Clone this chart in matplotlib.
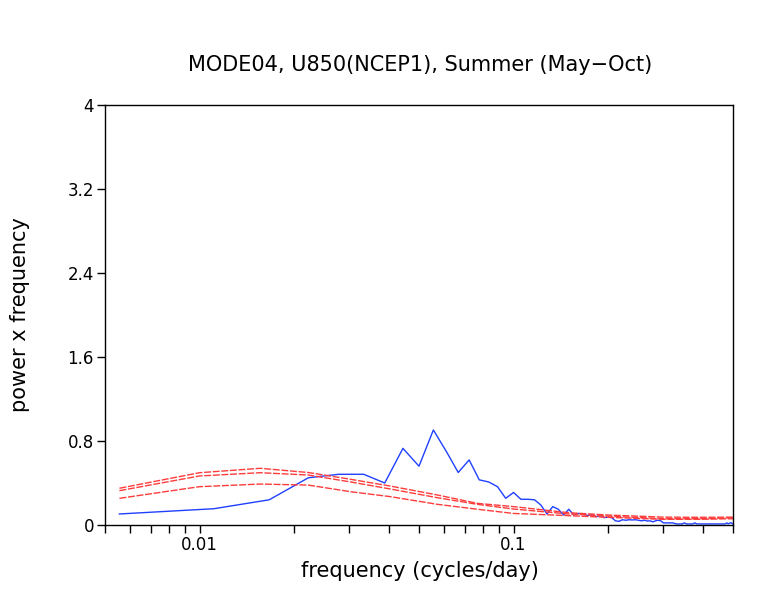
import matplotlib
matplotlib.use('Agg')
import matplotlib.pyplot as plt
import numpy as np

# harmonic index k, frequency = k / 180 cycles/day
k = np.arange(1, 91)
freq = k / 180.0

power = [
    0.105, 0.155, 0.24, 0.45, 0.483, 0.483, 0.40, 0.73, 0.56, 0.905,
    0.70, 0.50, 0.62, 0.43, 0.41, 0.365, 0.254, 0.31, 0.245, 0.245,
    0.24, 0.19, 0.105, 0.175, 0.15, 0.095, 0.15, 0.095, 0.11, 0.105,
    0.09, 0.10, 0.08, 0.09, 0.07, 0.075, 0.07, 0.04, 0.035, 0.05,
    0.045, 0.05, 0.048, 0.05, 0.045, 0.04, 0.045, 0.038, 0.04, 0.03,
    0.04, 0.045, 0.04, 0.02, 0.02, 0.02, 0.02, 0.02, 0.012, 0.01,
    0.01, 0.01, 0.02, 0.01, 0.01, 0.01, 0.01, 0.02, 0.01, 0.01,
    0.01, 0.01, 0.01, 0.01, 0.01, 0.01, 0.01, 0.01, 0.01, 0.01,
    0.01, 0.01, 0.01, 0.01, 0.01, 0.02, 0.01, 0.02, 0.02, 0.01,
]

# red: red-noise reference curves
red_freq = [0.00556, 0.01, 0.0156, 0.0222, 0.0303, 0.0405, 0.0572, 0.0767,
            0.1, 0.15, 0.2, 0.3, 0.4, 0.5]
red_upper = [0.35, 0.498, 0.54, 0.50, 0.435, 0.371, 0.286, 0.206,
             0.175, 0.117, 0.095, 0.075, 0.073, 0.075]
red_mid = [0.327, 0.467, 0.498, 0.476, 0.41, 0.343, 0.26, 0.197,
           0.152, 0.105, 0.085, 0.060, 0.060, 0.068]
red_lower = [0.254, 0.365, 0.39, 0.38, 0.317, 0.27, 0.197, 0.15,
             0.11, 0.089, 0.073, 0.054, 0.055, 0.060]

yticks = [0, 0.8, 1.6, 2.4, 3.2, 4]
ytick_labels = ['0', '0.8', '1.6', '2.4', '3.2', '4']

plt.rcParams['font.family'] = ['DejaVu Sans']

W, H = 770, 595
fig = plt.figure(figsize=(W / 100, H / 100), dpi=100)
ax = fig.add_axes([105 / W, 1 - 525 / H, 628 / W, 420 / H])

ax.plot(freq, power, color='#2040ff', lw=1.0)
for vals in (red_upper, red_mid, red_lower):
    ax.plot(red_freq, vals, color='#ff3c3c', lw=1.0, dashes=(5, 1.2))

ax.set_xscale('log')
ax.set_xlim(0.005, 0.5)
ax.set_ylim(0, 4)
ax.set_xticks([0.01, 0.1])
ax.set_xticklabels(['0.01', '0.1'])
ax.xaxis.set_minor_locator(matplotlib.ticker.LogLocator(base=10, subs=np.arange(2, 10)))
ax.xaxis.set_minor_formatter(matplotlib.ticker.NullFormatter())
ax.set_yticks(yticks)
ax.set_yticklabels(ytick_labels)

ax.tick_params(axis='both', which='both', direction='out', length=6, width=1,
               labelsize=12, top=False, right=False, pad=2)
for sp in ax.spines.values():
    sp.set_linewidth(1.0)

# titles placed by pixel position
fig.text(420 / W, 1 - 65 / H, 'MODE04, U850(NCEP1), Summer (May\u2212Oct)',
         fontsize=15, ha='center', va='center')
fig.text(420 / W, 1 - 571 / H, 'frequency (cycles/day)',
         fontsize=15, ha='center', va='center')
fig.text(20 / W, 1 - 315 / H, 'power x frequency',
         fontsize=15, ha='center', va='center', rotation=90)

fig.savefig('out.png', dpi=100)
